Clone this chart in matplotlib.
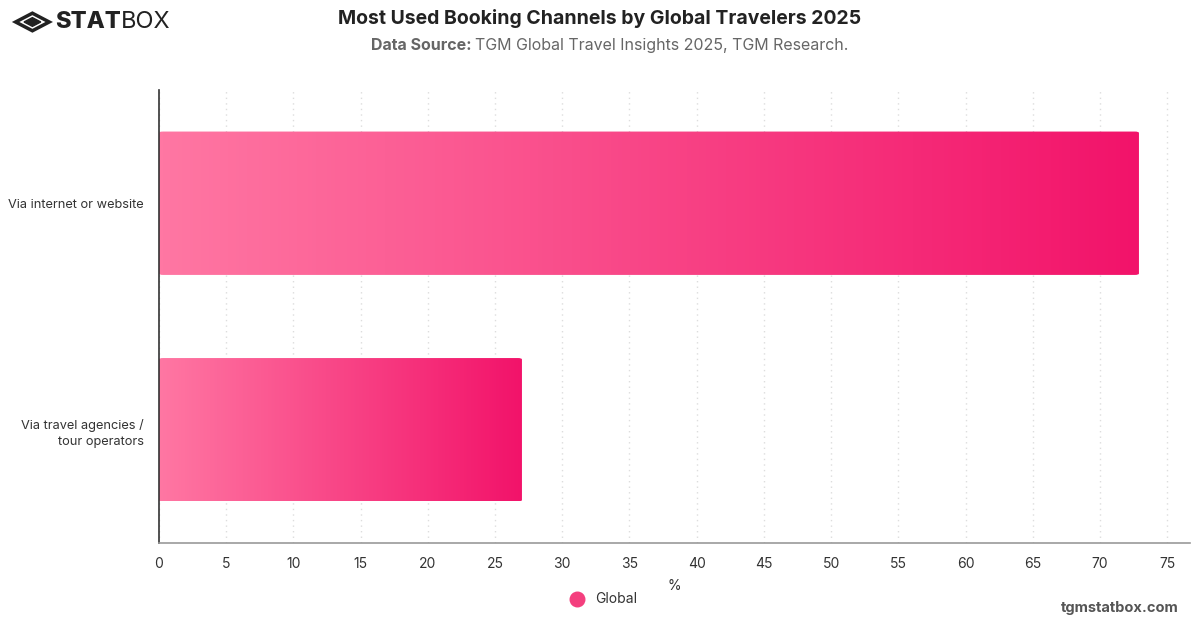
import numpy as np
import matplotlib.pyplot as plt
from matplotlib.colors import LinearSegmentedColormap
from matplotlib.patches import FancyBboxPatch, RegularPolygon

plt.rcParams['font.family'] = ['Inter', 'DejaVu Sans']

categories = ["Via internet or website", "Via travel agencies /\ntour operators"]
values = [72.9, 27.0]
series_name = "Global"
xticks = list(range(0, 80, 5))

fig = plt.figure(figsize=(12, 6.28), dpi=100)
ax = fig.add_axes([0.1325, 0.1354, 0.8592, 0.7213])

cmap = LinearSegmentedColormap.from_list("pink", ["#ff77a3", "#f2136a"])
grad = np.linspace(0, 1, 256).reshape(1, -1)
bar_h = 0.633

for i, v in enumerate(values):
    patch = FancyBboxPatch((0, i - bar_h / 2), v, bar_h,
                           boxstyle="round,pad=0,rounding_size=0.3",
                           mutation_aspect=0.02, facecolor="none", edgecolor="none")
    ax.add_patch(patch)
    im = ax.imshow(grad, cmap=cmap, aspect="auto",
                   extent=(0, v, i + bar_h / 2, i - bar_h / 2), zorder=2)
    im.set_clip_path(patch)
ax.set_ylim(1.5, -0.5)
ax.set_xlim(0, 76.7)

ax.set_yticks(range(len(categories)))
ax.set_yticklabels(categories, fontsize=9.2, color="#333333", linespacing=1.5)
ax.set_xticks(xticks)
ax.set_xticklabels([str(t) for t in xticks], fontsize=10, color="#333333")
ax.tick_params(axis="x", length=0, pad=10)
ax.tick_params(axis="y", length=0, pad=11)
ax.set_xlabel("%", fontsize=10, color="#333333", labelpad=6)

ax.grid(axis="x", color="#dddddd", linestyle=(0, (1, 3)), linewidth=1, zorder=0)
ax.set_axisbelow(True)
for s in ["top", "right"]:
    ax.spines[s].set_visible(False)
ax.spines["left"].set_color("#333333")
ax.spines["left"].set_linewidth(1.2)
ax.spines["bottom"].set_color("#999999")
ax.spines["bottom"].set_linewidth(1.2)

# legend
ax.scatter([], [], s=110, color="#f43f7e", label=series_name)
leg = fig.legend(loc="center", bbox_to_anchor=(0.5, 0.046), frameon=False,
                 fontsize=10, handletextpad=0.3)
for t in leg.get_texts():
    t.set_color("#333333")

# titles
fig.text(0.5, 0.971, "Most Used Booking Channels by Global Travelers 2025",
         ha="center", va="center", fontsize=14, fontweight="bold", color="#222222")
t1 = fig.text(0.309, 0.928, "Data Source: ", ha="left", va="center",
              fontsize=11.5, fontweight="bold", color="#666666")
fig.canvas.draw()
bb = t1.get_window_extent()
fig.text(bb.x1 / fig.bbox.width, 0.928, "TGM Global Travel Insights 2025, TGM Research.",
         ha="left", va="center", fontsize=11.5, color="#666666")

# logo
fig.patches.append(RegularPolygon((0.027, 0.965), 4, radius=0.014, orientation=0,
                                  transform=fig.transFigure, facecolor="none",
                                  edgecolor="#222222", linewidth=2.5))
fig.patches.append(RegularPolygon((0.027, 0.965), 4, radius=0.007, orientation=0,
                                  transform=fig.transFigure, facecolor="#222222",
                                  edgecolor="#222222"))
s = fig.text(0.046, 0.965, "STAT", ha="left", va="center", fontsize=17,
             fontweight="heavy", color="#222222")
fig.canvas.draw()
bb = s.get_window_extent()
fig.text(bb.x1 / fig.bbox.width, 0.965, "BOX", ha="left", va="center", fontsize=17,
         color="#222222")

fig.text(0.982, 0.02, "tgmstatbox.com", ha="right", va="bottom", fontsize=10.5,
         fontweight="bold", color="#555555")

fig.savefig("out.png", dpi=100)
